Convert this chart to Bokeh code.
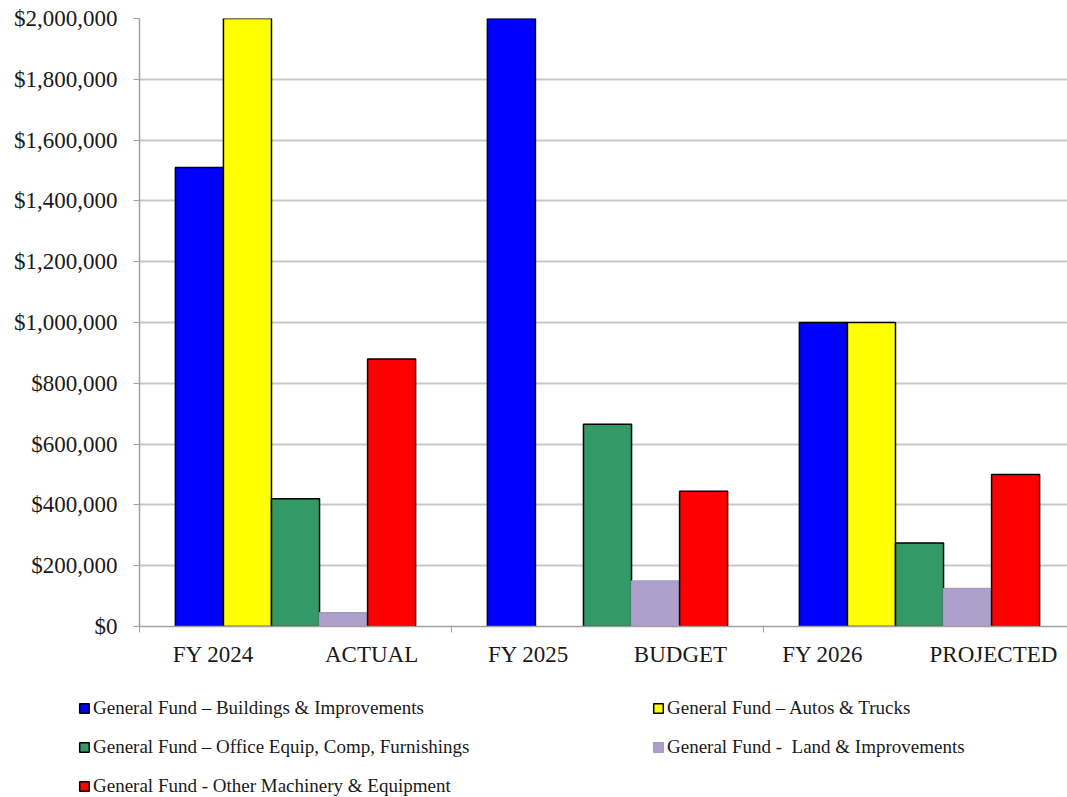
from bokeh.plotting import figure
from bokeh.layouts import column
from bokeh.models import (ColumnDataSource, Range1d, FixedTicker, NumeralTickFormatter,
                          LinearAxis, Legend, LegendItem)
from bokeh.embed import file_html
from bokeh.resources import INLINE

# ---- data ----
groups = ["FY 2024 ACTUAL", "FY 2025 BUDGET", "FY 2026 PROJECTED"]
label_left = ["FY 2024", "FY 2025", "FY 2026"]
label_right = ["ACTUAL", "BUDGET", "PROJECTED"]
series_names = [
    "General Fund \u2013 Buildings & Improvements",
    "General Fund \u2013 Autos & Trucks",
    "General Fund \u2013 Office Equip, Comp, Furnishings",
    "General Fund -  Land & Improvements",
    "General Fund - Other Machinery & Equipment",
]
NA = float("nan")
buildings = [1510000, 2300000, 1000000]
autos = [2300000, NA, 1000000]
office = [420000, 665000, 275000]
land = [45000, 150000, 125000]
machinery = [880000, 445000, 500000]
series_values = [buildings, autos, office, land, machinery]
y_ticks = [0, 200000, 400000, 600000, 800000, 1000000, 1200000, 1400000, 1600000, 1800000, 2000000]

# ---- style ----
fills = ["#0000FF", "#FFFF00", "#339966", "#AE9FCB", "#FF0000"]
lines = ["#000000", "#000000", "#000000", "#A89AC6", "#000000"]
SERIF = "Liberation Serif"
bar_w = 0.154
offsets = [-0.308, -0.154, 0.0, 0.154, 0.308]
left_off = [0.237, 0.247, 0.19]
right_off = [0.744, 0.734, 0.737]

p = figure(width=1067, height=674, output_backend="svg", toolbar_location=None,
           x_range=Range1d(0, 928 / 312), y_range=Range1d(0, 2000000),
           x_axis_type=None, min_border_left=139, min_border_top=18,
           min_border_right=0, min_border_bottom=48)
p.outline_line_color = None
p.background_fill_color = "white"

for i, (name, vals) in enumerate(zip(series_names, series_values)):
    xs = [g + 0.5 + offsets[i] for g in range(len(groups))]
    src = ColumnDataSource(dict(x=xs, top=vals))
    p.vbar(x="x", top="top", width=bar_w, source=src, fill_color=fills[i],
           line_color=lines[i], line_width=1.5)

# y axis
yax = p.yaxis[0]
yax.ticker = FixedTicker(ticks=y_ticks)
yax.formatter = NumeralTickFormatter(format="$0,0")
yax.major_label_text_font = SERIF
yax.major_label_text_font_size = "23px"
yax.major_label_text_color = "#1a1a1a"
yax.axis_line_color = "#A0A0A0"
yax.axis_line_width = 1.5
yax.major_tick_line_color = "#A0A0A0"
yax.major_tick_in = 0
yax.major_tick_out = 6
yax.minor_tick_line_color = None
yax.major_label_standoff = 16
p.ygrid.grid_line_color = "#C8C8C8"
p.ygrid.grid_line_width = 2
p.ygrid.ticker = FixedTicker(ticks=y_ticks)

# x axis
lab_pos = []
overrides = {}
for g in range(len(groups)):
    a = round(g + left_off[g], 3)
    b = round(g + right_off[g], 3)
    lab_pos += [a, b]
    overrides[a] = label_left[g]
    overrides[b] = label_right[g]
xax = LinearAxis(ticker=FixedTicker(ticks=lab_pos, minor_ticks=[0, 1, 2, 3]),
                 major_label_overrides=overrides)
xax.major_label_text_font = SERIF
xax.major_label_text_font_size = "23px"
xax.major_label_text_color = "#1a1a1a"
xax.axis_line_color = "#A0A0A0"
xax.axis_line_width = 1.5
xax.major_tick_line_color = None
xax.minor_tick_line_color = "#A0A0A0"
xax.minor_tick_in = 0
xax.minor_tick_out = 6
xax.major_label_standoff = 9
p.add_layout(xax, "below")

# legend panel
lf = figure(width=1067, height=123, output_backend="svg", toolbar_location=None,
            x_range=Range1d(0, 1), y_range=Range1d(0, 1),
            x_axis_type=None, y_axis_type=None, min_border=0)
lf.outline_line_color = None
lf.xgrid.visible = False
lf.ygrid.visible = False


def no_frame_align(fig):
    try:
        fig.frame_align = False
        return True
    except Exception:
        return False


aligned_off = no_frame_align(lf) and no_frame_align(p)
legend_x = 78 if aligned_off else 78 - 139

items = []
for i, name in enumerate(series_names):
    r = lf.vbar(x=[0.5], top=[NA], width=0.1, fill_color=fills[i],
                line_color=lines[i], line_width=1.5)
    items.append(LegendItem(label=name, renderers=[r]))

legend = Legend(items=items, orientation="horizontal", ncols=2, location=(legend_x, 0))
legend.label_text_font = SERIF
legend.label_text_font_size = "19px"
legend.label_text_color = "#1a1a1a"
legend.glyph_width = 12
legend.glyph_height = 12
legend.label_standoff = 3
legend.label_height = 20
legend.label_width = 542
legend.spacing = 17
legend.padding = 0
legend.margin = 0
legend.border_line_color = None
legend.background_fill_alpha = 0
lf.add_layout(legend, "center")

layout = column(p, lf, spacing=0)
open("out.html", "w").write(file_html(layout, INLINE))
